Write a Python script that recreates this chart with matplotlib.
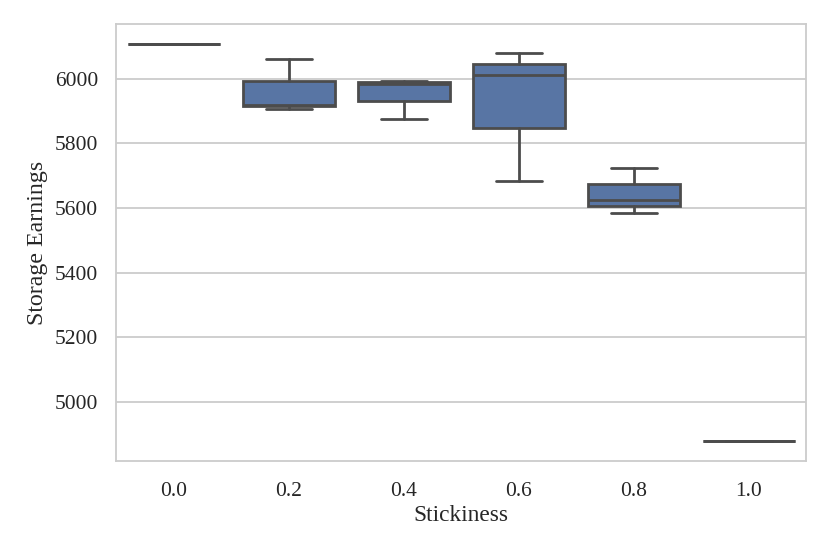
import matplotlib
matplotlib.use("Agg")
import matplotlib.pyplot as plt
import seaborn as sns

# Data (per stickiness level: min, q1, median, q3, max)
categories = ["0.0", "0.2", "0.4", "0.6", "0.8", "1.0"]
earn_00 = [6108, 6108, 6108, 6108, 6108]
earn_02 = [5907, 5915, 5919, 5993, 6063]
earn_04 = [5877, 5932, 5985, 5990, 5995]
earn_06 = [5683, 5847, 6011, 6047, 6080]
earn_08 = [5586, 5605, 5625, 5676, 5724]
earn_10 = [4878, 4878, 4878, 4878, 4878]
yticks = [5000, 5200, 5400, 5600, 5800, 6000]

sns.set_theme(style="whitegrid", context="notebook")
plt.rcParams["font.family"] = ["Liberation Serif", "DejaVu Serif"]

fig = plt.figure(figsize=(8.3, 5.54), dpi=100)
ax = fig.add_axes([0.1398, 0.1679, 0.8313, 0.7888])

data = [earn_00, earn_02, earn_04, earn_06, earn_08, earn_10]
face = "#5875a4"
edge = "#4c4c4c"
lw = 2.0
ax.boxplot(
    data,
    positions=range(len(categories)),
    widths=0.8,
    patch_artist=True,
    whis=[0, 100],
    showfliers=False,
    boxprops=dict(facecolor=face, edgecolor=edge, linewidth=lw),
    medianprops=dict(color=edge, linewidth=lw),
    whiskerprops=dict(color=edge, linewidth=lw),
    capprops=dict(color=edge, linewidth=lw),
)

ax.set_xlim(-0.5, len(categories) - 0.5)
ax.set_ylim(4817, 6170)
ax.set_xticks(range(len(categories)))
ax.set_xticklabels(categories)
ax.set_yticks(yticks)
ax.xaxis.grid(False)
ax.yaxis.grid(True, color="#cccccc", linewidth=1.3)
ax.set_axisbelow(True)
for s in ax.spines.values():
    s.set_color("#cccccc")
    s.set_linewidth(1.3)
ax.tick_params(axis="x", labelsize=15.5, length=0, pad=15, colors="#262626")
ax.tick_params(axis="y", labelsize=15.5, length=0, pad=13, colors="#262626")
ax.set_xlabel("Stickiness", fontsize=16.8, color="#262626", labelpad=3)
ax.set_ylabel("Storage Earnings", fontsize=17.2, color="#262626", labelpad=5)

fig.savefig("out.png", dpi=100)
